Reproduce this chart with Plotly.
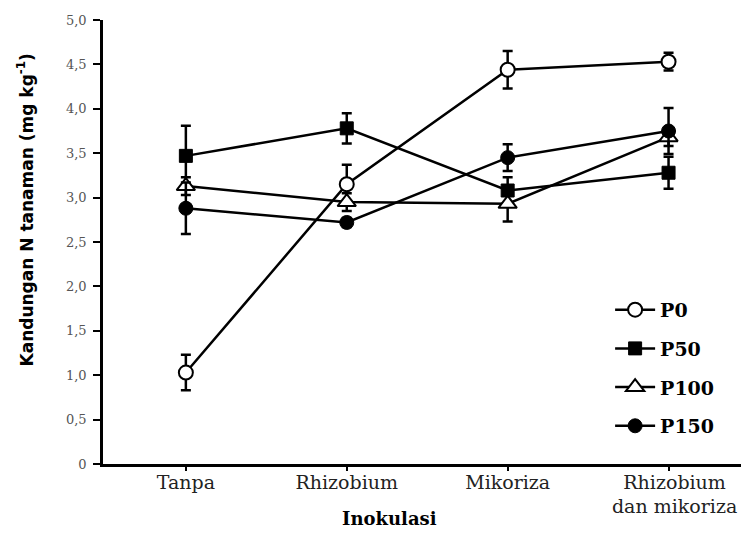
import plotly.graph_objects as go

categories = ["Tanpa", "Rhizobium", "Mikoriza", "\u00a0\u00a0Rhizobium<br>\u00a0\u00a0dan mikoriza"]
series_names = ["P0", "P50", "P100", "P150"]
p0 = [1.03, 3.15, 4.44, 4.53]
p0_err = [0.20, 0.22, 0.21, 0.10]
p50 = [3.47, 3.78, 3.08, 3.28]
p50_err = [0.34, 0.17, 0.15, 0.18]
p100 = [3.13, 2.95, 2.93, 3.68]
p100_err = [0.10, 0.10, 0.20, 0.10]
p150 = [2.88, 2.72, 3.45, 3.75]
p150_err = [0.29, 0.05, 0.15, 0.26]
y_tickvals = [0, 0.5, 1, 1.5, 2, 2.5, 3, 3.5, 4, 4.5, 5]
y_ticktext = ["0", "0,5", "1,0", "1,5", "2,0", "2,5", "3,0", "3,5", "4,0", "4,5", "5,0"]

values = [p0, p50, p100, p150]
errors = [p0_err, p50_err, p100_err, p150_err]
markers = [
    dict(symbol="circle", color="white", size=14, line=dict(color="black", width=2)),
    dict(symbol="square", color="black", size=13, line=dict(color="black", width=1)),
    dict(symbol="triangle-up", color="white", size=16, line=dict(color="black", width=2)),
    dict(symbol="circle", color="black", size=14, line=dict(color="black", width=1)),
]

xpos = list(range(len(categories)))
fig = go.Figure()
for name, v, e, m in zip(series_names, values, errors, markers):
    fig.add_trace(go.Scatter(
        x=xpos, y=v, name="<b>" + name + "</b>", mode="lines+markers",
        line=dict(color="black", width=2.5),
        marker=m, legendgroup=name,
        error_y=dict(type="data", array=e, visible=True, color="black",
                     thickness=2.5, width=5),
    ))

serif = "DejaVu Serif"
# the page body has an 8px margin, so the figure is shrunk by 8px and margins shifted
fig.update_layout(
    width=741, height=540,
    margin=dict(l=95, r=0, t=12, b=84),
    paper_bgcolor="white", plot_bgcolor="white",
    showlegend=True,
    legend=dict(x=0.785, y=0.39, xanchor="left", yanchor="top",
                bgcolor="rgba(0,0,0,0)", traceorder="grouped", tracegroupgap=11,
                font=dict(family=serif, size=19, color="black"), itemwidth=40),
    xaxis=dict(range=[-0.515, 3.5], tickvals=xpos, ticktext=categories,
               showline=True, linecolor="black", linewidth=2.5,
               ticks="outside", ticklen=4, tickwidth=2, tickcolor="black",
               showgrid=False, zeroline=False, ticklabelstandoff=-5,
               tickfont=dict(family=serif, size=19, color="#222")),
    yaxis=dict(range=[0, 5], tickvals=y_tickvals, ticktext=y_ticktext,
               showline=True, linecolor="black", linewidth=2.5,
               ticks="outside", ticklen=7, tickwidth=2, tickcolor="black",
               showgrid=False, zeroline=False, ticklabelstandoff=4,
               tickfont=dict(family=serif, size=13, color="#555")),
    annotations=[
        dict(text="<b>Inokulasi</b>", xref="paper", yref="paper",
             x=0.444, y=-0.095, xanchor="center", yanchor="top", showarrow=False,
             font=dict(family=serif, size=18, color="black")),
        dict(text="<b>Kandungan N tanaman (mg kg<sup>-1</sup>)</b>", xref="paper", yref="paper",
             x=-0.12, y=0.572, xanchor="center", yanchor="middle", showarrow=False,
             textangle=-90, font=dict(family="DejaVu Sans", size=17, color="black")),
    ],
)
fig.write_html("out.html")
